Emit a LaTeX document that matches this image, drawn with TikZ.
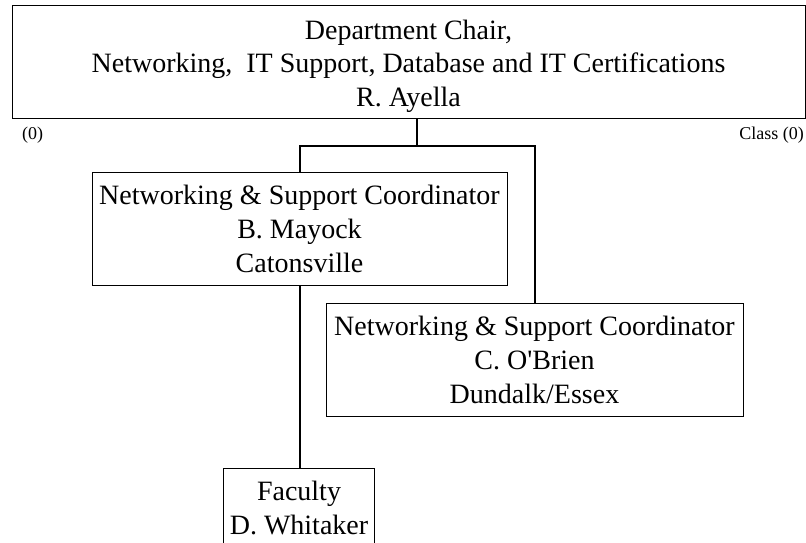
\documentclass[tikz,border=0pt]{standalone}
\usepackage{fontspec}
\setmainfont{Liberation Serif}
\usetikzlibrary{calc}
\begin{document}
\begin{tikzpicture}[x=1pt,y=-1pt,
  box/.style={draw=black,line width=1pt,rectangle,align=center,inner sep=0pt,
    font=\fontsize{28}{34}\selectfont},
  txt/.style={align=center,inner sep=0pt,font=\fontsize{28}{33.5}\selectfont},
  small/.style={font=\fontsize{18}{20}\selectfont,inner sep=0pt},
  conn/.style={line width=2pt}]
\useasboundingbox (0,0) rectangle (806,543);
\clip (0,0) rectangle (806,543);
\node[box,minimum width=793,minimum height=112] (chair) at (408.5,62) {};
\node[txt] (chairtext) at (408.5,66)
  {Department Chair,\\Networking,\ \ IT Support, Database and IT Certifications\\R. Ayella};
\node[small,anchor=west] (cl) at (22,135) {(0)};
\node[small,anchor=east] (cr) at (804,135) {Class (0)};
\node[box,minimum width=415,minimum height=113] (mayock) at (299.5,228.5)
  {Networking \& Support Coordinator\\B. Mayock\\Catonsville};
\node[box,minimum width=417,minimum height=113] (obrien) at (534.5,359.5)
  {Networking \& Support Coordinator\\C. O\textquotesingle Brien\\Dundalk/Essex};
\node[box,draw=none,minimum width=150,minimum height=78] (faculty) at (299,508)
  {Faculty\\D. Whitaker};
\draw[line width=1pt] (faculty.north west) rectangle ($(faculty.south east)+(0,30)$);
\coordinate (j) at (417,146);
\draw[conn] (chair.south -| j) -- (j);
\draw[conn] (mayock.north) -- (mayock.north |- j) -- (obrien.north |- j) -- (obrien.north);
\draw[conn] (mayock.south) -- (mayock.south |- faculty.north);
\end{tikzpicture}
\end{document}
